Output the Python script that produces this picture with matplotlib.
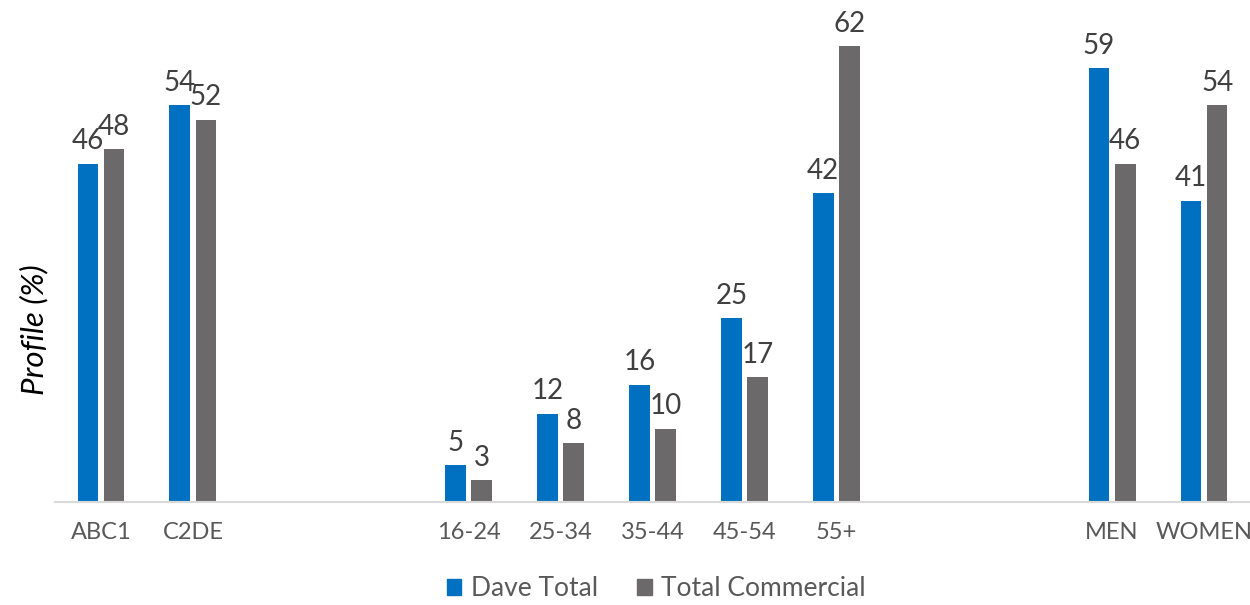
import numpy as np
import matplotlib
matplotlib.use("Agg")
import matplotlib.pyplot as plt
from matplotlib.patches import Patch

plt.rcParams['font.family'] = ['Lato', 'DejaVu Sans']

categories = ["ABC1", "C2DE", "", "", "16-24", "25-34", "35-44", "45-54", "55+", "", "", "MEN", "WOMEN"]
dave_total = [46, 54, None, None, 5, 12, 16, 25, 42, None, None, 59, 41]
total_commercial = [48, 52, None, None, 3, 8, 10, 17, 62, None, None, 46, 54]
series_names = ["Dave Total", "Total Commercial"]

blue = "#0070C0"
grey = "#6B6969"

fig = plt.figure(figsize=(12.5, 6.05), dpi=100)
ax = fig.add_axes([0.044, 0.170, 0.956, 0.790])

x = np.arange(len(categories))
w = 0.225
gap = 0.03

def to_arr(v):
    return np.array([np.nan if a is None else a for a in v], dtype=float)

d = to_arr(dave_total)
t = to_arr(total_commercial)

b1 = ax.bar(x - w / 2 - gap, d, w, color=blue)
b2 = ax.bar(x + w / 2 + gap, t, w, color=grey)

for bars, vals in ((b1, d), (b2, t)):
    for rect, v in zip(bars, vals):
        if np.isnan(v):
            continue
        ax.text(rect.get_x() + rect.get_width() / 2, v + 1.3, f"{int(v)}",
                ha="center", va="bottom", fontsize=20, color="#404040")

ax.set_xlim(-0.5, len(categories) - 0.5)
ax.set_ylim(0, 65)
ax.set_xticks(x)
ax.set_xticklabels(categories, fontsize=17, color="#595959")
ax.tick_params(axis="x", length=0, pad=14)
ax.set_yticks([])
for s in ("top", "right", "left"):
    ax.spines[s].set_visible(False)
ax.spines["bottom"].set_color("#D9D9D9")
ax.spines["bottom"].set_linewidth(1.5)

fig.text(0.027, 0.455, "Profile (%)", rotation=90, ha="center", va="center",
         fontsize=22.5, style="italic", color="#000000")

handles = [Patch(color=blue), Patch(color=grey)]
fig.legend(handles, series_names, loc="center", bbox_to_anchor=(0.525, 0.027),
           ncol=2, frameon=False, fontsize=19, handlelength=0.55, handleheight=0.55,
           handletextpad=0.35, columnspacing=1.5, labelcolor="#595959")

fig.savefig("out.png", dpi=100)
